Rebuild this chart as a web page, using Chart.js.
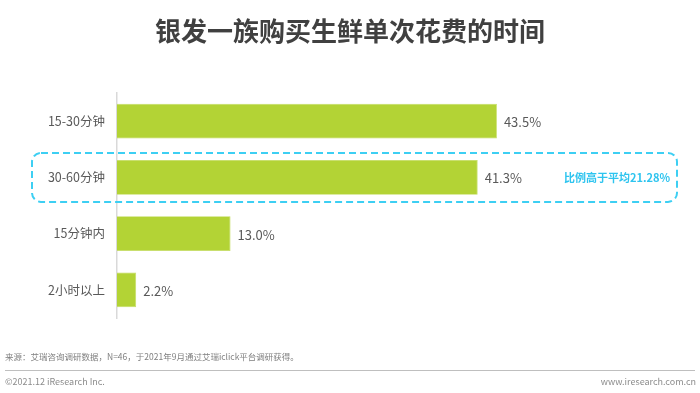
<!DOCTYPE html>
<html>
<head>
<meta charset="utf-8">
<script src="https://cdn.jsdelivr.net/npm/chart.js@4/dist/chart.umd.min.js"></script>
<style>
  html,body{margin:0;padding:0;background:#fff;}
  #wrap{position:relative;width:700px;height:393px;}
</style>
</head>
<body>
<div id="wrap"><canvas id="c" width="700" height="393"></canvas></div>
<script>
const title = '银发一族购买生鲜单次花费的时间';
const categories = ['15-30分钟', '30-60分钟', '15分钟内', '2小时以上'];
const values = [43.5, 41.3, 13.0, 2.2];
const highlightIndex = 1;
const highlightText = '比例高于平均21.28%';
const sourceText = '来源：艾瑞咨询调研数据，N=46，于2021年9月通过艾瑞iclick平台调研获得。';
const copyrightText = '©2021.12 iResearch Inc.';
const siteText = 'www.iresearch.com.cn';

const FONT = '"Microsoft YaHei","Noto Sans CJK SC","Noto Sans",sans-serif';

const decor = {
  id: 'decor',
  afterDatasetsDraw(chart) {
    const ctx = chart.ctx;
    const meta = chart.getDatasetMeta(0);
    ctx.save();
    // value labels
    ctx.font = '13px ' + FONT;
    ctx.fillStyle = '#595959';
    ctx.textAlign = 'left';
    ctx.textBaseline = 'middle';
    meta.data.forEach((bar, i) => {
      ctx.fillText(values[i].toFixed(1) + '%', bar.x + 7, bar.y + 1);
    });
    // highlight box
    const yc = chart.scales.y.getPixelForValue(highlightIndex);
    const top = yc - 24.5, bottom = yc + 24.5, left = 32, right = 677;
    ctx.strokeStyle = '#3dcff3';
    ctx.lineWidth = 2;
    ctx.setLineDash([7, 4]);
    ctx.beginPath();
    ctx.roundRect(left, top, right - left, bottom - top, 9);
    ctx.stroke();
    ctx.setLineDash([]);
    ctx.font = 'bold 11px ' + FONT;
    ctx.fillStyle = '#2ec4ef';
    ctx.fillText(highlightText, 564, yc + 0.5);
    ctx.restore();
  },
  afterDraw(chart) {
    const ctx = chart.ctx;
    ctx.save();
    ctx.fillStyle = '#404040';
    ctx.font = 'bold 26px ' + FONT;
    ctx.textAlign = 'center';
    ctx.textBaseline = 'middle';
    ctx.fillText(title, 350, 31);
    ctx.textAlign = 'left';
    ctx.font = '8.5px ' + FONT;
    ctx.fillStyle = '#7f7f7f';
    ctx.fillText(sourceText, 5, 357);
    ctx.strokeStyle = '#bfbfbf';
    ctx.lineWidth = 1;
    ctx.beginPath();
    ctx.moveTo(5, 370.5);
    ctx.lineTo(695, 370.5);
    ctx.stroke();
    ctx.font = '9px ' + FONT;
    ctx.fillStyle = '#8c8c8c';
    ctx.fillText(copyrightText, 5, 382);
    ctx.textAlign = 'right';
    ctx.fillText(siteText, 696, 382);
    ctx.restore();
  }
};

new Chart(document.getElementById('c'), {
  type: 'bar',
  data: {
    labels: categories,
    datasets: [{
      data: values,
      backgroundColor: '#b3d335',
      borderColor: '#c2dc5c',
      borderWidth: 0.8,
      barPercentage: 0.62,
      categoryPercentage: 1
    }]
  },
  options: {
    indexAxis: 'y',
    responsive: false,
    animation: false,
    devicePixelRatio: 1,
    layout: { padding: { left: 0, top: 93, right: 59, bottom: 75 } },
    plugins: { legend: { display: false }, tooltip: { enabled: false } },
    scales: {
      x: { display: false, min: 0, max: 60 },
      y: {
        afterFit(scale) { scale.width = 117; },
        grid: { display: false, drawTicks: false },
        border: { color: '#d9d9d9', width: 1.5 },
        ticks: { color: '#595959', font: { size: 12.5, family: FONT }, padding: 12 }
      }
    }
  },
  plugins: [decor]
});
</script>
</body>
</html>
